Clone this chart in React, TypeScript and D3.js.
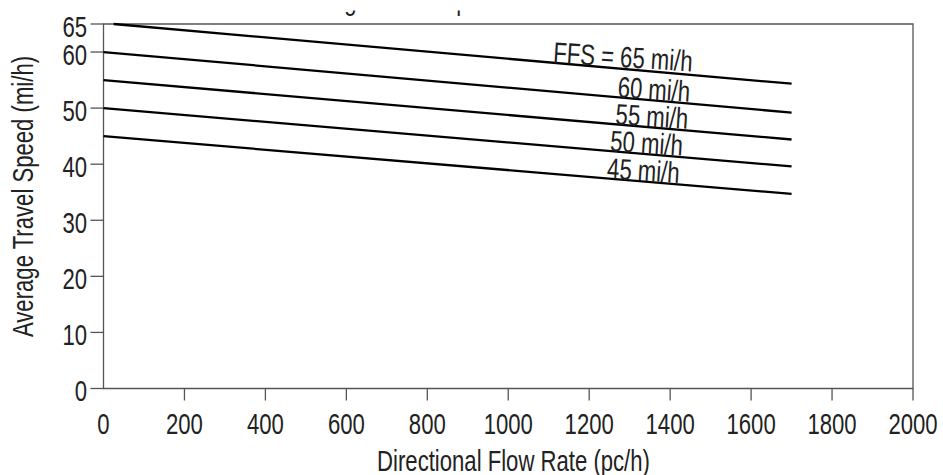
import React from "react";
import * as d3 from "d3";

// Average travel speed vs. directional flow rate, one line per free-flow speed
const flowTicks = [0, 200, 400, 600, 800, 1000, 1200, 1400, 1600, 1800, 2000];
const speedTicks = [0, 10, 20, 30, 40, 50, 60, 65];

const ffsValues = [65, 60, 55, 50, 45];
const startFlow = [25, 0, 0, 0, 0];
const startSpeed = [65, 60, 55, 50, 45];
const endFlow = [1700, 1700, 1700, 1700, 1700];
const endSpeed = [54.35, 49.2, 44.4, 39.6, 34.7];
const lineLabels = ["FFS = 65 mi/h", "60 mi/h", "55 mi/h", "50 mi/h", "45 mi/h"];
const labelFlow = [1110, 1269, 1264, 1251, 1243];

const W = 943;
const H = 475;
const FONT = "'Liberation Sans', Arial, sans-serif";
const NARROW = 0.75; // horizontal squeeze for a condensed look
const FS = 29.5;
const INK = "#222";
const AXIS = "#555";

type LabelProps = {
  x: number;
  y: number;
  rotate?: number;
  anchor?: "start" | "middle" | "end";
  dy?: string;
  children: React.ReactNode;
};

// Text drawn with a condensed horizontal scale
function CText({ x, y, rotate = 0, anchor = "start", dy, children }: LabelProps) {
  return (
    <text
      transform={`translate(${x},${y}) rotate(${rotate}) scale(${NARROW},1)`}
      textAnchor={anchor}
      dy={dy}
      fontSize={FS}
      fill={INK}
    >
      {children}
    </text>
  );
}

export default function App() {
  const x = d3.scaleLinear().domain([0, 2000]).range([103.5, 913]);
  const y = d3.scaleLinear().domain([0, 65]).range([388.5, 24]);
  const line = d3
    .line<[number, number]>()
    .x((d) => x(d[0]))
    .y((d) => y(d[1]));

  const series = ffsValues.map((ffs, i) => {
    const pts: [number, number][] = [
      [startFlow[i], startSpeed[i]],
      [endFlow[i], endSpeed[i]],
    ];
    const speedAt = d3
      .scaleLinear()
      .domain([startFlow[i], endFlow[i]])
      .range([startSpeed[i], endSpeed[i]]);
    return { ffs, pts, label: lineLabels[i], lx: labelFlow[i], ly: speedAt(labelFlow[i]) };
  });

  const x0 = x(0);
  const y0 = y(0);
  const xMax = x(2000);
  const yTop = y(65);

  return (
    <svg
      width={W}
      height={H}
      style={{ position: "absolute", left: 0, top: 0, background: "#fff" }}
      fontFamily={FONT}
    >
      <defs>
        <clipPath id="title-clip">
          <rect x={0} y={10.5} width={W} height={14} />
        </clipPath>
      </defs>
      <rect width={W} height={H} fill="#fff" />

      {/* title, trimmed by the top edge */}
      <g clipPath="url(#title-clip)">
        <CText x={287} y={9.5}>Average Travel Speed</CText>
      </g>

      {/* frame */}
      <path
        d={`M${x0},${y0}H${xMax}V${yTop}H${x0}Z`}
        fill="none"
        stroke={AXIS}
        strokeWidth={1.3}
      />

      {/* y axis */}
      {speedTicks.map((t) => (
        <g key={`y${t}`}>
          <line x1={x0 - 13} x2={x0} y1={y(t)} y2={y(t)} stroke={AXIS} strokeWidth={1.3} />
          <CText x={x0 - 16.5} y={y(t) + 12.5} anchor="end">
            {t}
          </CText>
        </g>
      ))}

      {/* x axis */}
      {flowTicks.map((t) => (
        <g key={`x${t}`}>
          {t > 0 && (
            <line x1={x(t)} x2={x(t)} y1={y0} y2={y0 + 12} stroke={AXIS} strokeWidth={1.3} />
          )}
          <CText x={x(t)} y={433.5} anchor="middle">
            {t}
          </CText>
        </g>
      ))}

      {/* axis titles */}
      <CText x={513.5} y={470.5} anchor="middle">
        Directional Flow Rate (pc/h)
      </CText>
      <CText x={33} y={196.5} rotate={-90} anchor="middle">
        Average Travel Speed (mi/h)
      </CText>

      {/* speed–flow lines */}
      {series.map((s) => (
        <path
          key={`l${s.ffs}`}
          d={line(s.pts) ?? ""}
          fill="none"
          stroke="#000"
          strokeWidth={2.3}
        />
      ))}

      {/* line labels */}
      {series.map((s) => (
        <CText key={`t${s.ffs}`} x={x(s.lx)} y={y(s.ly)} rotate={3.6}>
          {s.label}
        </CText>
      ))}
    </svg>
  );
}
